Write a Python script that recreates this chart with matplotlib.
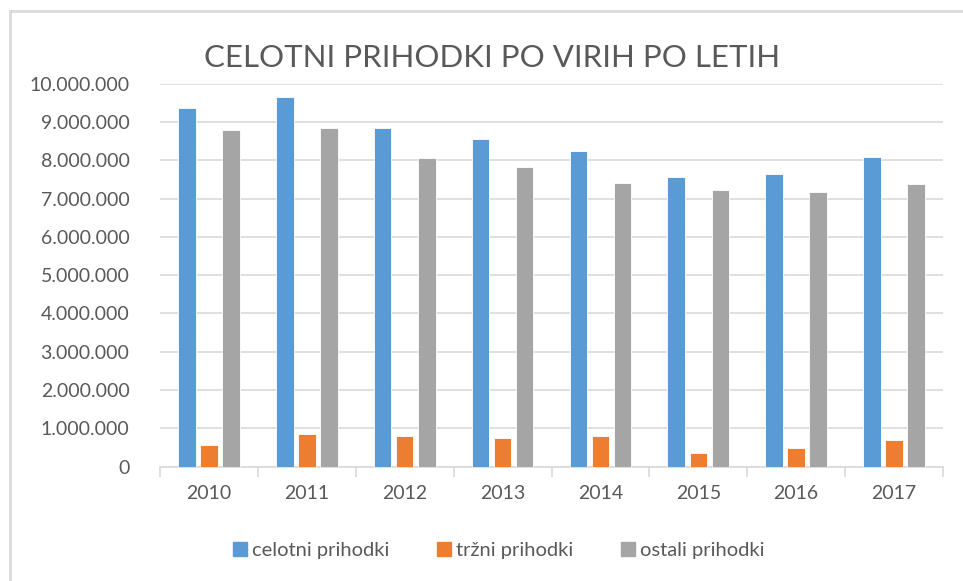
import numpy as np
import matplotlib.pyplot as plt
from matplotlib.lines import Line2D
from matplotlib.ticker import FuncFormatter

plt.rcParams['font.family'] = ['Lato', 'DejaVu Sans']

years = ['2010', '2011', '2012', '2013', '2014', '2015', '2016', '2017']
celotni = [9360000, 9660000, 8830000, 8560000, 8230000, 7550000, 7650000, 8090000]
trzni = [550000, 850000, 790000, 740000, 790000, 350000, 480000, 690000]
ostali = [8790000, 8830000, 8050000, 7820000, 7410000, 7220000, 7180000, 7380000]

series_names = ['celotni prihodki', 'tržni prihodki', 'ostali prihodki']
colors = ['#5b9bd5', '#ed7d31', '#a5a5a5']
text_color = '#595959'


def dot_thousands(v, pos):
    return f"{int(v):,}".replace(',', '.')


fig = plt.figure(figsize=(9.63, 5.81), dpi=100)
ax = fig.add_axes([160 / 963, 1 - 466.5 / 581, 783 / 963, (466.5 - 83.7) / 581])

x = np.arange(len(years))
width = 0.18
step = 0.225
for i, (vals, col) in enumerate(zip([celotni, trzni, ostali], colors)):
    ax.bar(x + (i - 1) * step, vals, width, color=col, edgecolor='white',
           linewidth=0.6, zorder=3)

ax.set_xlim(-0.5, len(years) - 0.5)
ax.set_ylim(0, 10000000)
ax.set_yticks(np.arange(0, 10000001, 1000000))
ax.yaxis.set_major_formatter(FuncFormatter(dot_thousands))
ax.grid(axis='y', color='#d9d9d9', linewidth=1.2, zorder=0)

ax.set_xticks(x)
ax.set_xticklabels(years)
ax.set_xticks(np.arange(-0.5, len(years), 1), minor=True)
ax.tick_params(axis='x', which='major', length=0, pad=13, labelsize=14, labelcolor=text_color)
ax.tick_params(axis='x', which='minor', length=7, color='#d9d9d9', width=1.2)
ax.tick_params(axis='y', length=0, pad=22, labelsize=14, labelcolor=text_color)

for side in ['top', 'right', 'left']:
    ax.spines[side].set_visible(False)
ax.spines['bottom'].set_color('#d9d9d9')
ax.spines['bottom'].set_linewidth(1.2)

fig.text(492 / 963, 1 - 58 / 581, 'CELOTNI PRIHODKI PO VIRIH PO LETIH',
         ha='center', va='center', fontsize=22.5, color=text_color)

handles = [Line2D([0], [0], marker='s', linestyle='none', markersize=10,
                  markerfacecolor=c, markeredgecolor=c) for c in colors]
fig.legend(handles, series_names, loc='center', bbox_to_anchor=(497 / 963, 1 - 550 / 581),
           ncol=3, frameon=False, fontsize=14.5, labelcolor=text_color,
           handletextpad=0.1, columnspacing=2.2, handlelength=1.0)

# chart area border (top and left visible)
fig.add_artist(Line2D([10 / 963, 10 / 963], [0, 1 - 11 / 581], transform=fig.transFigure,
                      color='#d9d9d9', linewidth=2))
fig.add_artist(Line2D([10 / 963, 1], [1 - 11 / 581, 1 - 11 / 581], transform=fig.transFigure,
                      color='#d9d9d9', linewidth=2))

fig.savefig('out.png', dpi=100)
